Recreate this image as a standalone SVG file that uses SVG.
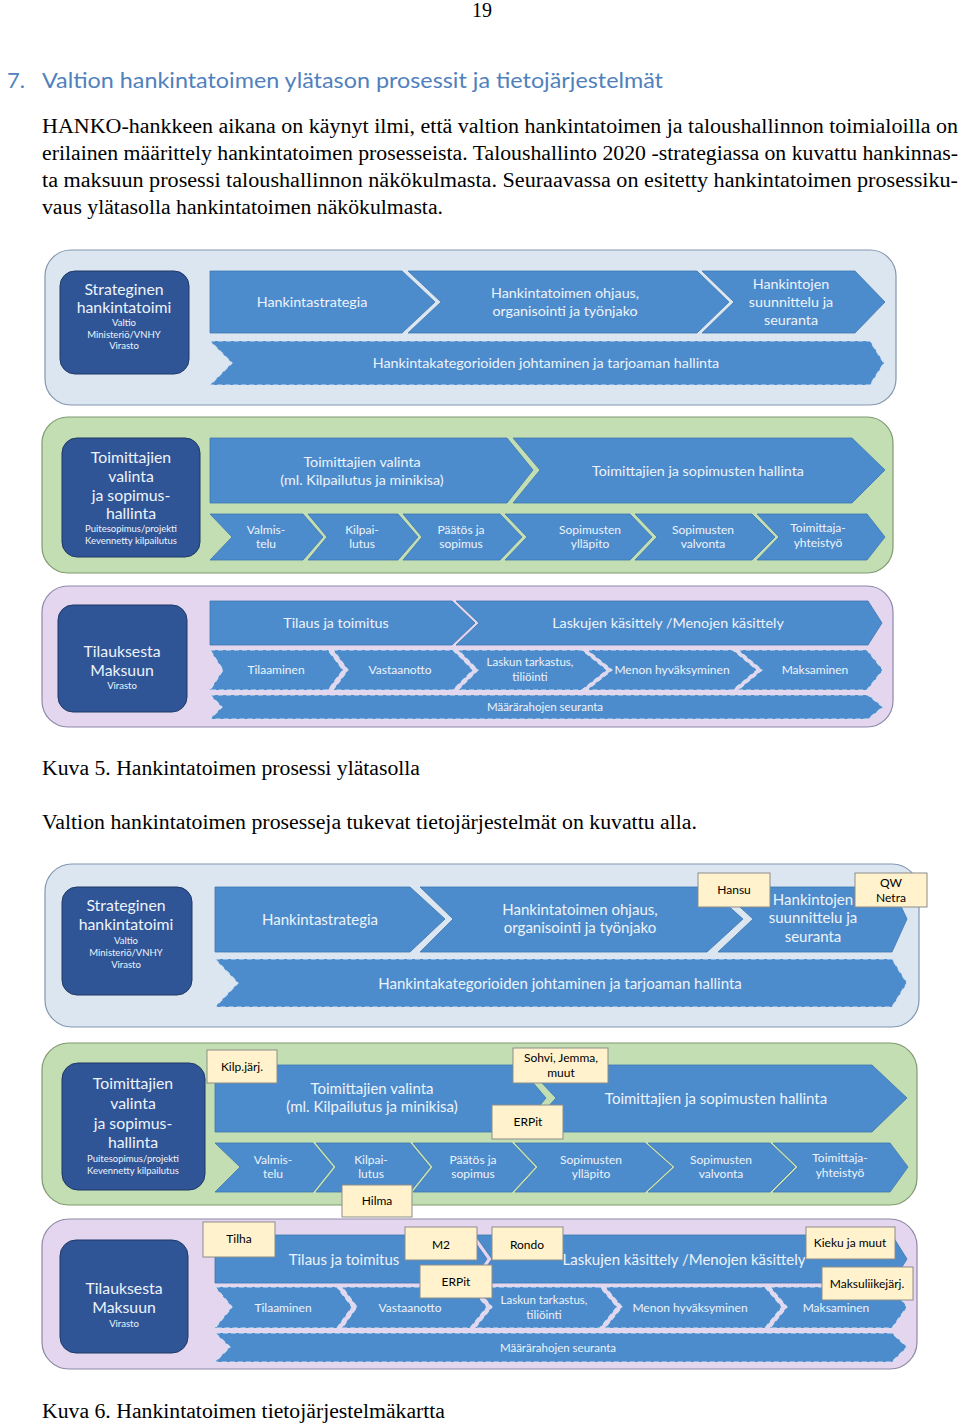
<svg xmlns="http://www.w3.org/2000/svg" width="960" height="1426" viewBox="0 0 960 1426">
<style>
.page{font-family:"Liberation Serif",serif;font-size:20px;fill:#000}
.head{font-family:Lato,"Liberation Sans",sans-serif;font-size:22px;fill:#4F81BD}
.pb{fill:#DCE6F1;stroke:#8497B0;stroke-width:1.2}
.pg{fill:#C4DEB3;stroke:#7E9A70;stroke-width:1.2}
.pp{fill:#E4D6EF;stroke:#8E88A8;stroke-width:1.2}
.dk{fill:#2F5597;stroke:#1F3864;stroke-width:1}
.ch{fill:#4C8CCD;stroke:#3E76AE;stroke-width:0.8}
.chd{fill:#4C8CCD;stroke:#D5E2F0;stroke-width:1.2;stroke-dasharray:5 3}
.yb{fill:#FFF2CC;stroke:#8C8C8C;stroke-width:1}
text.t{font-family:Lato,"Open Sans",sans-serif;fill:#EEF3FA;text-anchor:middle}
.dt{font-size:15.8px}
.ds{font-size:9.5px}
.m{font-size:14.3px}
.m6{font-size:15px}
.s{font-size:12px}
.xs{font-size:11.5px}
text.y{font-family:Lato,"Open Sans",sans-serif;fill:#000;font-size:12px;text-anchor:middle}
</style>

<g id="page-text">
<text class="page" x="472" y="17" font-size="17">19</text>
<text class="head" x="7" y="88">7.</text>
<text class="head" x="42" y="88" textLength="621" lengthAdjust="spacingAndGlyphs">Valtion hankintatoimen ylätason prosessit ja tietojärjestelmät</text>
<text class="page" x="42" y="133" textLength="916" lengthAdjust="spacingAndGlyphs">HANKO-hankkeen aikana on käynyt ilmi, että valtion hankintatoimen ja taloushallinnon toimialoilla on</text>
<text class="page" x="42" y="160" textLength="916" lengthAdjust="spacingAndGlyphs">erilainen määrittely hankintatoimen prosesseista. Taloushallinto 2020 -strategiassa on kuvattu hankinnas-</text>
<text class="page" x="42" y="187" textLength="916" lengthAdjust="spacingAndGlyphs">ta maksuun prosessi taloushallinnon näkökulmasta. Seuraavassa on esitetty hankintatoimen prosessiku-</text>
<text class="page" x="42" y="214" textLength="401" lengthAdjust="spacingAndGlyphs">vaus ylätasolla hankintatoimen näkökulmasta.</text>
<text class="page" x="42" y="775" textLength="378" lengthAdjust="spacingAndGlyphs">Kuva 5. Hankintatoimen prosessi ylätasolla</text>
<text class="page" x="42" y="829" textLength="655" lengthAdjust="spacingAndGlyphs">Valtion hankintatoimen prosesseja tukevat tietojärjestelmät on kuvattu alla.</text>
<text class="page" x="42" y="1418" textLength="403" lengthAdjust="spacingAndGlyphs">Kuva 6. Hankintatoimen tietojärjestelmäkartta</text>
</g>

<!-- ===== Figure 5 ===== -->
<g id="f5-panel-strategic">
<rect class="pb" x="45" y="250" width="851" height="155" rx="26"/>
<g id="f5-strateginen">
<rect class="dk" x="60" y="271" width="129" height="103" rx="15"/>
<text class="t dt" x="124" y="295">Strateginen</text>
<text class="t dt" x="124" y="313">hankintatoimi</text>
<text class="t ds" x="124" y="326">Valtio</text>
<text class="t ds" x="124" y="338">Ministeriö/VNHY</text>
<text class="t ds" x="124" y="349">Virasto</text>
</g>
<g id="f5-hankintastrategia">
<polygon class="ch" points="210,271 402,271 435,302 402,333 210,333"/>
<text class="t m" x="312" y="307">Hankintastrategia</text>
</g>
<g id="f5-ohjaus">
<polygon class="ch" points="408,271 697,271 729,302 697,333 408,333 441,302"/>
<text class="t m" x="565" y="298">Hankintatoimen ohjaus,</text>
<text class="t m" x="565" y="316">organisointi ja työnjako</text>
</g>
<g id="f5-suunnittelu">
<polygon class="ch" points="702,271 855,271 885,302 855,333 702,333 734,302"/>
<text class="t m" x="791" y="289">Hankintojen</text>
<text class="t m" x="791" y="307">suunnittelu ja</text>
<text class="t m" x="791" y="325">seuranta</text>
</g>
<g id="f5-kategoriat">
<polygon class="chd" points="210,341 870,341 884,363 870,385 210,385 232,363"/>
<text class="t m" x="546" y="368">Hankintakategorioiden johtaminen ja tarjoaman hallinta</text>
</g>
</g>

<g id="f5-panel-suppliers">
<rect class="pg" x="42" y="417" width="851" height="156" rx="26"/>
<g id="f5-toimittajien">
<rect class="dk" x="62" y="438" width="138" height="119" rx="15"/>
<text class="t dt" x="131" y="463">Toimittajien</text>
<text class="t dt" x="131" y="482">valinta</text>
<text class="t dt" x="131" y="501">ja sopimus-</text>
<text class="t dt" x="131" y="519">hallinta</text>
<text class="t ds" x="131" y="532">Puitesopimus/projekti</text>
<text class="t ds" x="131" y="544">Kevennetty kilpailutus</text>
</g>
<g id="f5-valinta">
<polygon class="ch" points="210,438 507,438 533,470 507,503 210,503"/>
<text class="t m" x="362" y="467">Toimittajien valinta</text>
<text class="t m" x="362" y="485">(ml. Kilpailutus ja minikisa)</text>
</g>
<g id="f5-hallinta">
<polygon class="ch" points="513,438 852,438 885,470 852,503 513,503 540,470"/>
<text class="t m" x="698" y="476">Toimittajien ja sopimusten hallinta</text>
</g>
<g id="f5-valmistelu">
<polygon class="ch" points="210,514 303,514 323,537 303,560 210,560 232,537"/>
<text class="t s" x="266" y="534">Valmis-</text><text class="t s" x="266" y="548">telu</text>
</g>
<g id="f5-kilpailutus">
<polygon class="ch" points="308,514 398,514 418,537 398,560 308,560 327,537"/>
<text class="t s" x="362" y="534">Kilpai-</text><text class="t s" x="362" y="548">lutus</text>
</g>
<g id="f5-paatos">
<polygon class="ch" points="403,514 500,514 522,537 500,560 403,560 422,537"/>
<text class="t s" x="461" y="534">Päätös ja</text><text class="t s" x="461" y="548">sopimus</text>
</g>
<g id="f5-yllapito">
<polygon class="ch" points="505,514 630,514 652,537 630,560 505,560 527,537"/>
<text class="t s" x="590" y="534">Sopimusten</text><text class="t s" x="590" y="548">ylläpito</text>
</g>
<g id="f5-valvonta">
<polygon class="ch" points="635,514 752,514 775,537 752,560 635,560 657,537"/>
<text class="t s" x="703" y="534">Sopimusten</text><text class="t s" x="703" y="548">valvonta</text>
</g>
<g id="f5-yhteistyo">
<polygon class="ch" points="757,514 867,514 885,537 867,560 757,560 779,537"/>
<text class="t s" x="818" y="532">Toimittaja-</text><text class="t s" x="818" y="547">yhteistyö</text>
</g>
</g>

<g id="f5-panel-p2p">
<rect class="pp" x="42" y="586" width="851" height="141" rx="26"/>
<g id="f5-tilauksesta">
<rect class="dk" x="58" y="605" width="129" height="107" rx="15"/>
<text class="t dt" x="122" y="657">Tilauksesta</text>
<text class="t dt" x="122" y="676">Maksuun</text>
<text class="t ds" x="122" y="689">Virasto</text>
</g>
<g id="f5-tilaus">
<polygon class="ch" points="210,601 452,601 475,623 452,645 210,645"/>
<text class="t m" x="336" y="628">Tilaus ja toimitus</text>
</g>
<g id="f5-laskujen">
<polygon class="ch" points="456,601 868,601 882,623 868,645 456,645 479,623"/>
<text class="t m" x="668" y="628">Laskujen käsittely /Menojen käsittely</text>
</g>
<g id="f5-tilaaminen">
<polygon class="chd" points="210,650 328,650 343,670 328,690 210,690 223,670"/>
<text class="t s" x="276" y="674">Tilaaminen</text>
</g>
<g id="f5-vastaanotto">
<polygon class="chd" points="333,650 453,650 473,670 453,690 333,690 348,670"/>
<text class="t s" x="400" y="674">Vastaanotto</text>
</g>
<g id="f5-tarkastus">
<polygon class="chd" points="458,650 582,650 607,670 582,690 458,690 478,670"/>
<text class="t xs" x="530" y="666">Laskun tarkastus,</text><text class="t xs" x="530" y="681">tiliöinti</text>
</g>
<g id="f5-hyvaksyminen">
<polygon class="chd" points="587,650 733,650 757,670 733,690 587,690 612,670"/>
<text class="t s" x="672" y="674">Menon hyväksyminen</text>
</g>
<g id="f5-maksaminen">
<polygon class="chd" points="738,650 867,650 883,670 867,690 738,690 762,670"/>
<text class="t s" x="815" y="674">Maksaminen</text>
</g>
<g id="f5-maararahat">
<polygon class="chd" points="210,695 868,695 883,707 868,719 210,719 222,707"/>
<text class="t xs" x="545" y="711">Määrärahojen seuranta</text>
</g>
</g>

<!-- ===== Figure 6 ===== -->
<g id="f6-panel-strategic">
<rect class="pb" x="45" y="864" width="874" height="163" rx="27"/>
<g id="f6-strateginen">
<rect class="dk" x="62" y="887" width="130" height="108" rx="15"/>
<text class="t dt" x="126" y="911">Strateginen</text>
<text class="t dt" x="126" y="930">hankintatoimi</text>
<text class="t ds" x="126" y="944">Valtio</text>
<text class="t ds" x="126" y="956">Ministeriö/VNHY</text>
<text class="t ds" x="126" y="968">Virasto</text>
</g>
<g id="f6-hankintastrategia">
<polygon class="ch" points="215,887 410,887 445,919 410,952 215,952"/>
<text class="t m6" x="320" y="925">Hankintastrategia</text>
</g>
<g id="f6-ohjaus">
<polygon class="ch" points="420,887 707,887 743,919 707,952 420,952 453,919"/>
<text class="t m6" x="580" y="915">Hankintatoimen ohjaus,</text>
<text class="t m6" x="580" y="933">organisointi ja työnjako</text>
</g>
<g id="f6-suunnittelu">
<polygon class="ch" points="718,887 892,887 907,919 892,952 718,952 753,919"/>
<text class="t m6" x="813" y="905">Hankintojen</text>
<text class="t m6" x="813" y="923">suunnittelu ja</text>
<text class="t m6" x="813" y="942">seuranta</text>
</g>
<g id="f6-kategoriat">
<polygon class="chd" points="215,959 892,959 907,983 892,1007 215,1007 238,983"/>
<text class="t m6" x="560" y="989">Hankintakategorioiden johtaminen ja tarjoaman hallinta</text>
</g>
<g id="f6-hansu">
<rect class="yb" x="698" y="873" width="72" height="34"/>
<text class="y" x="734" y="894">Hansu</text>
</g>
<g id="f6-qw">
<rect class="yb" x="855" y="873" width="72" height="34"/>
<text class="y" x="891" y="887">QW</text>
<text class="y" x="891" y="902">Netra</text>
</g>
</g>

<g id="f6-panel-suppliers">
<rect class="pg" x="42" y="1043" width="875" height="162" rx="27"/>
<g id="f6-toimittajien">
<rect class="dk" x="62" y="1063" width="143" height="127" rx="16"/>
<text class="t dt" x="133" y="1089">Toimittajien</text>
<text class="t dt" x="133" y="1109">valinta</text>
<text class="t dt" x="133" y="1129">ja sopimus-</text>
<text class="t dt" x="133" y="1148">hallinta</text>
<text class="t ds" x="133" y="1162">Puitesopimus/projekti</text>
<text class="t ds" x="133" y="1174">Kevennetty kilpailutus</text>
</g>
<g id="f6-valinta">
<polygon class="ch" points="215,1065 518,1065 546,1098 518,1132 215,1132"/>
<text class="t m6" x="372" y="1094">Toimittajien valinta</text>
<text class="t m6" x="372" y="1112">(ml. Kilpailutus ja minikisa)</text>
</g>
<g id="f6-hallinta">
<polygon class="ch" points="525,1065 872,1065 907,1098 872,1132 525,1132 556,1098"/>
<text class="t m6" x="716" y="1104">Toimittajien ja sopimusten hallinta</text>
</g>
<g id="f6-valmistelu">
<polygon class="ch" points="215,1143 313,1143 333,1167 313,1192 215,1192 240,1167"/>
<text class="t s" x="273" y="1164">Valmis-</text><text class="t s" x="273" y="1178">telu</text>
</g>
<g id="f6-kilpailutus">
<polygon class="ch" points="316,1143 410,1143 430,1167 410,1192 316,1192 336,1167"/>
<text class="t s" x="371" y="1164">Kilpai-</text><text class="t s" x="371" y="1178">lutus</text>
</g>
<g id="f6-paatos">
<polygon class="ch" points="413,1143 512,1143 535,1167 512,1192 413,1192 433,1167"/>
<text class="t s" x="473" y="1164">Päätös ja</text><text class="t s" x="473" y="1178">sopimus</text>
</g>
<g id="f6-yllapito">
<polygon class="ch" points="515,1143 645,1143 672,1167 645,1192 515,1192 538,1167"/>
<text class="t s" x="591" y="1164">Sopimusten</text><text class="t s" x="591" y="1178">ylläpito</text>
</g>
<g id="f6-valvonta">
<polygon class="ch" points="648,1143 770,1143 795,1167 770,1192 648,1192 675,1167"/>
<text class="t s" x="721" y="1164">Sopimusten</text><text class="t s" x="721" y="1178">valvonta</text>
</g>
<g id="f6-yhteistyo">
<polygon class="ch" points="773,1143 890,1143 908,1167 890,1192 773,1192 798,1167"/>
<text class="t s" x="840" y="1162">Toimittaja-</text><text class="t s" x="840" y="1177">yhteistyö</text>
</g>
<g id="f6-kilpjarj">
<rect class="yb" x="207" y="1050" width="70" height="33"/>
<text class="y" x="242" y="1071">Kilp.järj.</text>
</g>
<g id="f6-sohvi">
<rect class="yb" x="513" y="1048" width="95" height="35"/>
<text class="y" x="561" y="1062">Sohvi, Jemma,</text>
<text class="y" x="561" y="1077">muut</text>
</g>
<g id="f6-erpit1">
<rect class="yb" x="492" y="1105" width="71" height="34"/>
<text class="y" x="528" y="1126">ERPit</text>
</g>
<g id="f6-hilma">
<rect class="yb" x="342" y="1185" width="70" height="32"/>
<text class="y" x="377" y="1205">Hilma</text>
</g>
</g>

<g id="f6-panel-p2p">
<rect class="pp" x="42" y="1219" width="875" height="150" rx="27"/>
<g id="f6-tilauksesta">
<rect class="dk" x="60" y="1240" width="128" height="113" rx="16"/>
<text class="t dt" x="124" y="1294">Tilauksesta</text>
<text class="t dt" x="124" y="1313">Maksuun</text>
<text class="t ds" x="124" y="1327">Virasto</text>
</g>
<g id="f6-tilaus">
<polygon class="ch" points="215,1235 470,1235 487,1259 470,1283 215,1283"/>
<text class="t m6" x="344" y="1265">Tilaus ja toimitus</text>
</g>
<g id="f6-laskujen">
<polygon class="ch" points="475,1235 892,1235 907,1259 892,1283 475,1283 492,1259"/>
<text class="t m6" x="684" y="1265">Laskujen käsittely /Menojen käsittely</text>
</g>
<g id="f6-tilaaminen">
<polygon class="chd" points="215,1287 337,1287 352,1307 337,1328 215,1328 232,1307"/>
<text class="t s" x="283" y="1312">Tilaaminen</text>
</g>
<g id="f6-vastaanotto">
<polygon class="chd" points="342,1287 470,1287 487,1307 470,1328 342,1328 357,1307"/>
<text class="t s" x="410" y="1312">Vastaanotto</text>
</g>
<g id="f6-tarkastus">
<polygon class="chd" points="475,1287 600,1287 617,1307 600,1328 475,1328 492,1307"/>
<text class="t xs" x="544" y="1304">Laskun tarkastus,</text><text class="t xs" x="544" y="1319">tiliöinti</text>
</g>
<g id="f6-hyvaksyminen">
<polygon class="chd" points="605,1287 765,1287 782,1307 765,1328 605,1328 622,1307"/>
<text class="t s" x="690" y="1312">Menon hyväksyminen</text>
</g>
<g id="f6-maksaminen">
<polygon class="chd" points="770,1287 892,1287 907,1307 892,1328 770,1328 787,1307"/>
<text class="t s" x="836" y="1312">Maksaminen</text>
</g>
<g id="f6-maararahat">
<polygon class="chd" points="215,1333 892,1333 907,1347 892,1362 215,1362 230,1347"/>
<text class="t xs" x="558" y="1352">Määrärahojen seuranta</text>
</g>
<g id="f6-tilha">
<rect class="yb" x="203" y="1222" width="72" height="35"/>
<text class="y" x="239" y="1243">Tilha</text>
</g>
<g id="f6-m2">
<rect class="yb" x="405" y="1227" width="72" height="33"/>
<text class="y" x="441" y="1249">M2</text>
</g>
<g id="f6-rondo">
<rect class="yb" x="492" y="1227" width="71" height="33"/>
<text class="y" x="527" y="1249">Rondo</text>
</g>
<g id="f6-erpit2">
<rect class="yb" x="420" y="1265" width="72" height="33"/>
<text class="y" x="456" y="1286">ERPit</text>
</g>
<g id="f6-kieku">
<rect class="yb" x="806" y="1227" width="89" height="32"/>
<text class="y" x="850" y="1247">Kieku ja muut</text>
</g>
<g id="f6-maksuliike">
<rect class="yb" x="822" y="1267" width="91" height="33"/>
<text class="y" x="867" y="1288">Maksuliikejärj.</text>
</g>
</g>

<g id="connectors"/>
</svg>
